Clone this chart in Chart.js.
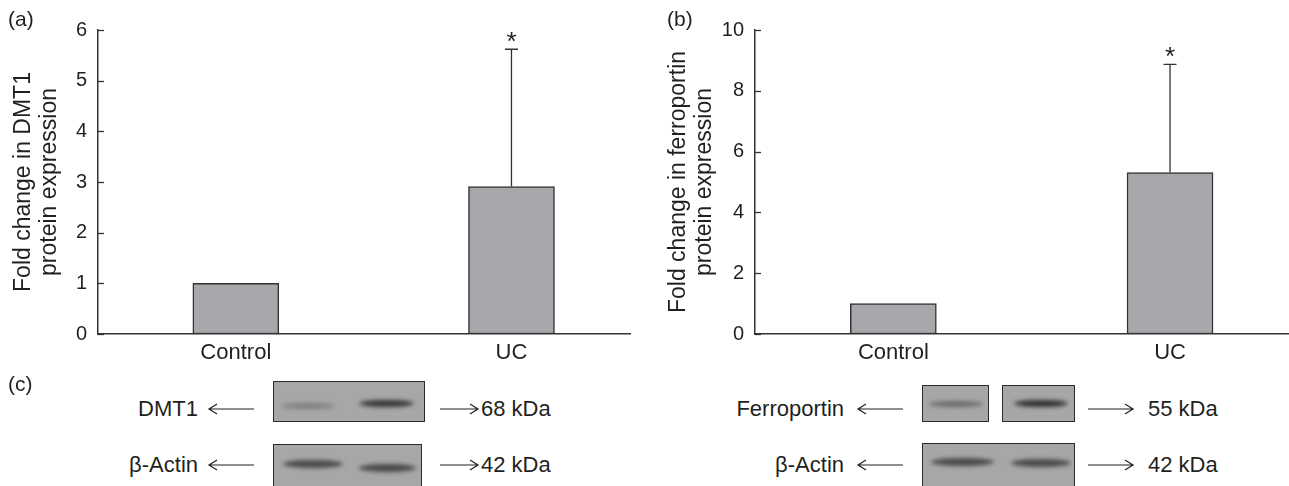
<!DOCTYPE html>
<html>
<head>
<meta charset="utf-8">
<script src="https://cdn.jsdelivr.net/npm/chart.js@4.4.1/dist/chart.umd.min.js"></script>
<style>
  body { margin: 0; width: 1289px; height: 486px; position: relative; overflow: hidden;
         background: #fff; font-family: 'Liberation Sans', Arial, sans-serif; color: #231f20; }
  canvas, .txt, .blot, svg { position: absolute; }
  .txt { font-size: 22px; line-height: 22px; white-space: nowrap; transform: translateY(-50%); }
  .panel { font-size: 21px; }
  .blot { background: #a7a7a7; border: 1.5px solid #2b2b2b; box-sizing: border-box; overflow: hidden; }
  .band { position: absolute; border-radius: 50%; filter: blur(2px); }
</style>
</head>
<body>
<canvas id="chartA" width="640" height="372" style="left:0;top:0"></canvas>
<canvas id="chartB" width="634" height="372" style="left:655px;top:0"></canvas>
<div id="panelC"></div>

<script>
// Dati
const categories = ['Control', 'UC'];
const dmt1Mean = [1.0, 2.91];
const dmt1SD = [0, 2.71];
const fpnMean = [1.0, 5.31];
const fpnSD = [0, 3.56];
const significant = [false, true];
const dmt1Ticks = [0, 1, 2, 3, 4, 5, 6];
const fpnTicks = [0, 2, 4, 6, 8, 10];

const ink = '#231f20';
const axisColor = '#333333';
const fontFamily = "'Liberation Sans', Arial, sans-serif";

// Disegna tacche interne, barre di errore e asterischi
const extrasPlugin = {
  id: 'extras',
  afterDatasetsDraw(chart, args, opts) {
    const ctx = chart.ctx;
    const yScale = chart.scales.y;
    const area = chart.chartArea;
    ctx.save();
    ctx.strokeStyle = axisColor;
    ctx.lineWidth = 1.3;
    yScale.ticks.forEach(t => {
      const py = Math.round(yScale.getPixelForValue(t.value)) + 0.5;
      ctx.beginPath();
      ctx.moveTo(area.left, py);
      ctx.lineTo(area.left + 6, py);
      ctx.stroke();
    });
    const meta = chart.getDatasetMeta(0);
    meta.data.forEach((bar, i) => {
      const sd = opts.sd[i];
      if (sd > 0) {
        const top = yScale.getPixelForValue(opts.mean[i] + sd);
        ctx.beginPath();
        ctx.moveTo(bar.x, bar.y);
        ctx.lineTo(bar.x, top);
        ctx.moveTo(bar.x - 6.5, top);
        ctx.lineTo(bar.x + 6.5, top);
        ctx.stroke();
        if (opts.marks[i]) {
          ctx.fillStyle = ink;
          ctx.font = '26px ' + fontFamily;
          ctx.textAlign = 'center';
          ctx.textBaseline = 'alphabetic';
          ctx.fillText('*', bar.x, top + 1);
        }
      }
    });
    ctx.restore();
  }
};

function drawChart(canvasElement, yTitle, mean, sd, ticks, yWidth, rightPad) {
  const points = categories.map((c, i) => ({ x: i + 1, y: mean[i] }));
  return new Chart(canvasElement.getContext('2d'), {
    type: 'bar',
    data: {
      datasets: [{
        data: points,
        backgroundColor: '#a7a8ab',
        borderColor: axisColor,
        borderWidth: 1.5,
        borderSkipped: false,
        barThickness: 86
      }]
    },
    options: {
      responsive: false,
      animation: false,
      devicePixelRatio: 1,
      layout: { padding: { top: 30, right: rightPad, left: 0, bottom: 0 } },
      plugins: {
        legend: { display: false },
        tooltip: { enabled: false },
        extras: { mean: mean, sd: sd, marks: significant }
      },
      scales: {
        x: {
          type: 'linear',
          offset: false,
          min: 0.5,
          max: 2.43,
          grid: { display: false, drawTicks: false, offset: false },
          border: { display: true, color: axisColor, width: 1.5 },
          afterBuildTicks: scale => { scale.ticks = categories.map((c, i) => ({ value: i + 1 })); },
          afterFit: scale => { scale.height = 38; },
          ticks: {
            padding: 6,
            color: ink,
            font: { family: fontFamily, size: 22, lineHeight: 1.2 },
            callback: v => categories[v - 1],
            maxRotation: 0
          }
        },
        y: {
          min: 0,
          max: ticks[ticks.length - 1],
          grid: { display: false, drawTicks: false },
          border: { display: true, color: axisColor, width: 1.5 },
          afterBuildTicks: scale => { scale.ticks = ticks.map(v => ({ value: v })); },
          afterFit: scale => { scale.width = yWidth; },
          ticks: {
            padding: 11,
            color: ink,
            font: { family: fontFamily, size: 20 }
          },
          title: {
            display: true,
            text: yTitle,
            color: ink,
            font: { family: fontFamily, size: 23, lineHeight: 1.15 },
            padding: { top: 10, bottom: 0 }
          }
        }
      }
    },
    plugins: [extrasPlugin]
  });
}

drawChart(document.getElementById('chartA'),
  ['Fold change in DMT1', 'protein expression'], dmt1Mean, dmt1SD, dmt1Ticks, 98, 10);
drawChart(document.getElementById('chartB'),
  ['Fold change in ferroportin', 'protein expression'], fpnMean, fpnSD, fpnTicks, 100, 0);

// Pannello (c): western blot
const panel = document.getElementById('panelC');

function addText(text, x, y, cls, alignRight) {
  const d = document.createElement('div');
  d.className = 'txt' + (cls ? ' ' + cls : '');
  d.textContent = text;
  d.style.top = y + 'px';
  if (alignRight) { d.style.right = (1289 - x) + 'px'; } else { d.style.left = x + 'px'; }
  panel.appendChild(d);
}

function addArrow(x1, x2, y, toLeft) {
  const ns = 'http://www.w3.org/2000/svg';
  const svg = document.createElementNS(ns, 'svg');
  svg.setAttribute('width', x2 - x1 + 4);
  svg.setAttribute('height', 14);
  svg.style.left = (x1 - 2) + 'px';
  svg.style.top = (y - 7) + 'px';
  const w = x2 - x1;
  const tip = toLeft ? 2 : w + 2;
  const dir = toLeft ? 1 : -1;
  const path = document.createElementNS(ns, 'path');
  path.setAttribute('d', `M2 7 H${w + 2} M${tip + dir * 8} 2 L${tip} 7 L${tip + dir * 8} 12`);
  path.setAttribute('stroke', ink);
  path.setAttribute('stroke-width', 1.2);
  path.setAttribute('fill', 'none');
  svg.appendChild(path);
  panel.appendChild(svg);
}

function addBlot(x, y, w, h, bands) {
  const b = document.createElement('div');
  b.className = 'blot';
  Object.assign(b.style, { left: x + 'px', top: y + 'px', width: w + 'px', height: h + 'px' });
  bands.forEach(([bx, by, bw, bh, a]) => {
    const s = document.createElement('div');
    s.className = 'band';
    Object.assign(s.style, {
      left: bx + 'px', top: (by - bh / 2) + 'px', width: bw + 'px', height: bh + 'px',
      background: `rgba(35,35,35,${a})`
    });
    b.appendChild(s);
  });
  panel.appendChild(b);
}

addText('(a)', 8, 19, 'panel');
addText('(b)', 667, 19, 'panel');
addText('(c)', 8, 384, 'panel');

// Sinistra: DMT1
addText('DMT1', 198, 409, '', true);
addArrow(209, 254, 409, true);
addBlot(273, 381, 152, 41, [[8, 24, 52, 6, 0.3], [85, 21, 55, 7, 0.85]]);
addArrow(440, 478, 409, false);
addText('68 kDa', 481, 409);

addText('β-Actin', 198, 465, '', true);
addArrow(209, 254, 465, true);
addBlot(273, 444, 149, 44, [[9, 19, 60, 8, 0.7], [85, 23, 57, 8, 0.7]]);
addArrow(440, 478, 465, false);
addText('42 kDa', 481, 465);

// Destra: ferroportina
addText('Ferroportin', 844, 409, '', true);
addArrow(858, 903, 409, true);
addBlot(922, 385, 67, 37, [[6, 18, 54, 6, 0.45]]);
addBlot(1002, 385, 73, 37, [[11, 17, 54, 7, 0.9]]);
addArrow(1088, 1133, 409, false);
addText('55 kDa', 1148, 409);

addText('β-Actin', 844, 465, '', true);
addArrow(858, 903, 465, true);
addBlot(922, 443, 153, 45, [[8, 18, 63, 8, 0.7], [88, 19, 60, 8, 0.7]]);
addArrow(1088, 1133, 465, false);
addText('42 kDa', 1148, 465);
</script>
</body>
</html>
